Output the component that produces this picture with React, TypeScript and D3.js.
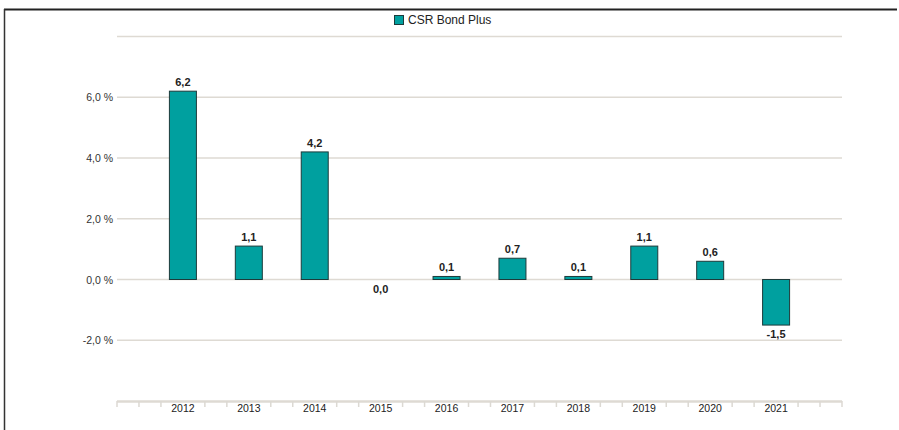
import React from "react";
import * as d3 from "d3";

const categories = ["2012", "2013", "2014", "2015", "2016", "2017", "2018", "2019", "2020", "2021"];
const values = [6.2, 1.1, 4.2, 0.0, 0.1, 0.7, 0.1, 1.1, 0.6, -1.5];
const yTicks = [-2, 0, 2, 4, 6];
const gridValues = [-2, 0, 2, 4, 6, 8];
const seriesName = "CSR Bond Plus";

const W = 899;
const H = 430;
const left = 117;
const right = 842;
const font = "'Liberation Sans', Arial, sans-serif";

export default function App() {
  const y = d3.scaleLinear().domain([-4, 8]).range([401, 36.5]);
  const x = d3
    .scaleLinear()
    .domain([-1, categories.length])
    .range([left, right]);
  const barW = 27;
  const fmt = (v: number) => d3.format(".1f")(v).replace(".", ",").replace("\u2212", "-");
  const minorTicks = d3.range(0, 34).filter((k) => !(k % 3 === 0 && k > 0 && k < 33));
  const step = (right - left) / 33;

  return (
    <div style={{ position: "absolute", left: 0, top: 0 }}>
      <svg width={W} height={H} style={{ display: "block", fontFamily: font }}>
        <rect width={W} height={H} fill="#fff" />
        {/* frame */}
        <line x1={4} x2={897} y1={9.5} y2={9.5} stroke="#222" strokeWidth={2} />
        <line x1={4.5} x2={4.5} y1={9} y2={H} stroke="#333" strokeWidth={1.5} />
        {/* legend */}
        <rect x={394.5} y={15.5} width={9} height={9} fill="#00A09F" stroke="#1d3b3b" strokeWidth={1} />
        <text x={408} y={24} fontSize={12} fill="#222">
          {seriesName}
        </text>
        {/* grid */}
        {gridValues.map((v) => (
          <line key={v} x1={left} x2={right} y1={y(v)} y2={y(v)} stroke="#dedad3" strokeWidth={1.3} />
        ))}
        {yTicks.map((v) => (
          <text key={v} x={113} y={y(v) + 4} fontSize={10.5} textAnchor="end" fill="#333">
            {fmt(v) + " %"}
          </text>
        ))}
        {/* x axis */}
        <line x1={left} x2={right} y1={401.5} y2={401.5} stroke="#dedad3" strokeWidth={2.5} />
        {minorTicks.map((k) => (
          <line
            key={k}
            x1={left + k * step}
            x2={left + k * step}
            y1={401}
            y2={407}
            stroke="#dcd9d3"
            strokeWidth={1.5}
          />
        ))}
        {categories.map((c, i) => (
          <text key={c} x={x(i)} y={412} fontSize={10.5} textAnchor="middle" fill="#222">
            {c}
          </text>
        ))}
        {/* bars */}
        {values.map((v, i) => {
          const y0 = y(0);
          const y1 = y(v);
          const top = Math.min(y0, y1);
          const h = Math.abs(y1 - y0);
          return (
            <g key={i}>
              {h > 0 && (
                <rect
                  x={x(i) - barW / 2}
                  y={top}
                  width={barW}
                  height={h}
                  fill="#00A09F"
                  stroke="#1d3b3b"
                  strokeWidth={1}
                />
              )}
              <text
                x={x(i)}
                y={v > 0 ? y1 - 5 : y1 + 13}
                fontSize={11}
                fontWeight="bold"
                textAnchor="middle"
                fill="#222"
              >
                {fmt(v)}
              </text>
            </g>
          );
        })}
      </svg>
    </div>
  );
}
